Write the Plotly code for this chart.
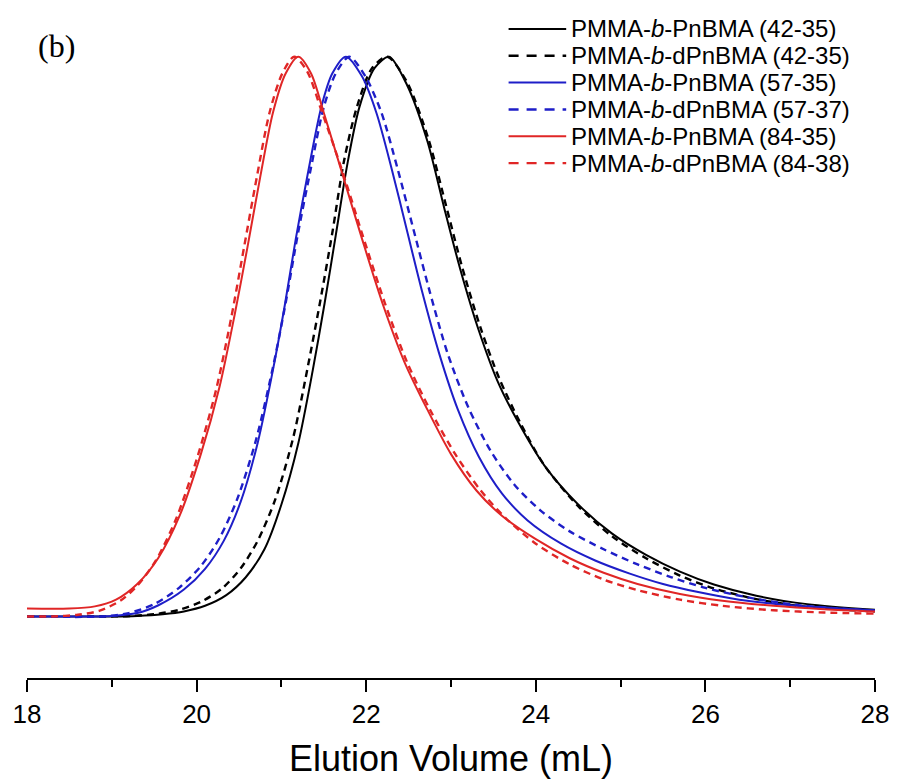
import plotly.graph_objects as go

# ---------------- data (normalised SEC traces) ----------------
labels = [
    "PMMA-<i>b</i>-PnBMA (42-35)",
    "PMMA-<i>b</i>-dPnBMA (42-35)",
    "PMMA-<i>b</i>-PnBMA (57-35)",
    "PMMA-<i>b</i>-dPnBMA (57-37)",
    "PMMA-<i>b</i>-PnBMA (84-35)",
    "PMMA-<i>b</i>-dPnBMA (84-38)",
]

x_42_35 = [18.0, 19.0, 19.3, 19.6, 19.85, 20.1, 20.35, 20.58, 20.8, 21.0, 21.2, 21.37, 21.51, 21.64,
           21.78, 21.92, 22.1, 22.27, 22.48, 22.72, 22.92, 23.11, 23.33, 23.55, 23.8, 24.1, 24.5,
           24.9, 25.3, 25.7, 26.1, 26.6, 27.2, 28.0]
y_42_35 = [0.0, 0.0, 0.001, 0.004, 0.009, 0.019, 0.038, 0.07, 0.12, 0.20, 0.31, 0.44, 0.56, 0.68,
           0.81, 0.91, 0.98, 1.0, 0.95, 0.85, 0.73, 0.62, 0.51, 0.42, 0.345, 0.27, 0.20,
           0.148, 0.11, 0.08, 0.057, 0.037, 0.022, 0.012]

x_42_35d = [18.0, 19.0, 19.25, 19.55, 19.8, 20.05, 20.3, 20.52, 20.72, 20.93, 21.14, 21.31, 21.46,
            21.6, 21.74, 21.89, 22.07, 22.25, 22.48, 22.73, 22.94, 23.13, 23.35, 23.57, 23.82, 24.1,
            24.5, 24.9, 25.3, 25.7, 26.1, 26.6, 27.2, 28.0]
y_42_35d = [0.0, 0.0, 0.001, 0.005, 0.012, 0.026, 0.05, 0.086, 0.135, 0.21, 0.32, 0.445, 0.565,
            0.685, 0.815, 0.91, 0.98, 1.0, 0.955, 0.855, 0.735, 0.625, 0.515, 0.425, 0.345, 0.27,
            0.197, 0.143, 0.104, 0.073, 0.05, 0.031, 0.017, 0.009]

x_57_35 = [18.0, 19.0, 19.3, 19.55, 19.85, 20.1, 20.32, 20.52, 20.72, 20.9, 21.04, 21.17, 21.31,
           21.47, 21.6, 21.76, 21.95, 22.12, 22.3, 22.48, 22.66, 22.86, 23.08, 23.33, 23.6, 23.9,
           24.3, 24.7, 25.1, 25.5, 25.9, 26.4, 27.0, 28.0]
y_57_35 = [0.0, 0.001, 0.006, 0.02, 0.048, 0.085, 0.135, 0.205, 0.31, 0.44, 0.556, 0.675, 0.79,
           0.91, 0.97, 1.0, 0.965, 0.90, 0.80, 0.69, 0.58, 0.47, 0.37, 0.285, 0.22, 0.172,
           0.13, 0.10, 0.077, 0.058, 0.044, 0.03, 0.02, 0.011]

x_57_37 = [18.0, 18.9, 19.2, 19.5, 19.8, 20.05, 20.27, 20.48, 20.7, 20.9, 21.05, 21.19, 21.34, 21.5,
           21.64, 21.8, 21.99, 22.18, 22.37, 22.56, 22.75, 22.96, 23.2, 23.47, 23.75, 24.05, 24.4,
           24.8, 25.2, 25.6, 26.0, 26.5, 27.1, 28.0]
y_57_37 = [0.0, 0.0, 0.006, 0.022, 0.052, 0.09, 0.14, 0.21, 0.315, 0.445, 0.56, 0.68, 0.795, 0.91,
           0.97, 1.0, 0.965, 0.90, 0.80, 0.69, 0.58, 0.47, 0.375, 0.295, 0.235, 0.19, 0.152,
           0.12, 0.093, 0.07, 0.051, 0.034, 0.02, 0.01]

x_84_35 = [18.0, 18.5, 18.8, 19.05, 19.3, 19.55, 19.8, 20.05, 20.27, 20.45, 20.6, 20.75, 20.9, 21.05,
           21.2, 21.35, 21.5, 21.72, 21.95, 22.2, 22.45, 22.72, 23.0, 23.3, 23.6, 24.0, 24.4, 24.8,
           25.2, 25.7, 26.2, 26.8, 27.4, 28.0]
y_84_35 = [0.014, 0.014, 0.018, 0.03, 0.058, 0.105, 0.18, 0.29, 0.41, 0.54, 0.66, 0.785, 0.90, 0.97,
           1.0, 0.97, 0.90, 0.79, 0.675, 0.556, 0.455, 0.37, 0.29, 0.225, 0.18, 0.138, 0.104, 0.078,
           0.058, 0.04, 0.028, 0.019, 0.013, 0.009]

x_84_38 = [18.0, 18.3, 18.6, 18.85, 19.1, 19.3, 19.52, 19.76, 20.01, 20.23, 20.41, 20.56, 20.71,
           20.86, 21.01, 21.15, 21.3, 21.47, 21.72, 21.96, 22.22, 22.48, 22.75, 23.05, 23.35, 23.65,
           24.0, 24.4, 24.8, 25.2, 25.7, 26.2, 26.8, 27.4, 28.0]
y_84_38 = [0.0, 0.0, 0.003, 0.01, 0.028, 0.055, 0.10, 0.175, 0.285, 0.405, 0.535, 0.66, 0.785,
           0.90, 0.97, 1.0, 0.975, 0.905, 0.795, 0.68, 0.56, 0.455, 0.37, 0.29, 0.225, 0.175,
           0.13, 0.093, 0.066, 0.047, 0.03, 0.019, 0.011, 0.007, 0.005]

x_series = [x_42_35, x_42_35d, x_57_35, x_57_37, x_84_35, x_84_38]
y_series = [y_42_35, y_42_35d, y_57_35, y_57_37, y_84_35, y_84_38]

tick_vals = [18, 20, 22, 24, 26, 28]
x_title = "Elution Volume (mL)"
panel_label = "(b)"

# ---------------- styles ----------------
BLACK = "#000000"
BLUE = "#1e1ec8"
RED = "#e02626"
colors = [BLACK, BLACK, BLUE, BLUE, RED, RED]
dashes = ["solid", "7px,5px", "solid", "7px,5px", "solid", "7px,5px"]
legend_dashes = ["solid", "10px,8px", "solid", "10px,8px", "solid", "10px,8px"]
widths = [2.0, 2.4, 2.0, 2.4, 2.0, 2.4]

SANS = "Liberation Sans, Arial, sans-serif"
SERIF = "Liberation Serif, Times New Roman, serif"

fig = go.Figure()
for xs, ys, name, c, d, w in zip(x_series, y_series, labels, colors, dashes, widths):
    fig.add_trace(go.Scatter(
        x=xs, y=ys, mode="lines", name=name, showlegend=False,
        line=dict(color=c, dash=d, width=w, shape="spline", smoothing=0.8),
        hoverinfo="x+y+name",
    ))

# ---------------- layout ----------------
W, H = 901, 784
ml, mr, mt, mb = 27, 20, 20, 102
plot_w = W - ml - mr
plot_h = H - mt - mb

fig.update_layout(
    width=W, height=H,
    margin=dict(l=ml, r=mr, t=mt, b=mb, pad=0),
    paper_bgcolor="white", plot_bgcolor="white",
    showlegend=False,
    xaxis=dict(
        range=[18, 28], tickvals=tick_vals, ticktext=[str(v) for v in tick_vals],
        showline=True, linecolor="black", linewidth=2, mirror=False,
        ticks="outside", ticklen=12, tickwidth=2, tickcolor="black",
        minor=dict(dtick=1, ticks="outside", ticklen=7, tickwidth=2, tickcolor="black"),
        showgrid=False, zeroline=False,
        tickfont=dict(family=SANS, size=26, color="black"),
        title=dict(text=x_title, font=dict(family=SANS, size=36, color="black"), standoff=18),
    ),
    yaxis=dict(range=[-0.11, 1.0657], visible=False, showgrid=False, zeroline=False),
)

# panel label
fig.add_annotation(text=panel_label, xref="paper", yref="paper",
                   x=(36 - ml) / plot_w, y=(H - mb - 46) / plot_h,
                   xanchor="left", yanchor="middle", showarrow=False,
                   font=dict(family=SERIF, size=32, color="black"))

# manual legend (tight Origin-style rows)
row_px = [29, 56, 83, 110, 137, 164]
line_x0, line_x1, text_x = 512, 570, 574
for name, c, d, w, py in zip(labels, colors, legend_dashes, widths, row_px):
    yp = (H - mb - py) / plot_h
    fig.add_shape(type="line", xref="paper", yref="paper",
                  x0=(line_x0 - ml) / plot_w, x1=(line_x1 - ml) / plot_w, y0=yp, y1=yp,
                  line=dict(color=c, width=w, dash=d))
    fig.add_annotation(text=name, xref="paper", yref="paper",
                       x=(text_x - ml) / plot_w, y=yp, xanchor="left", yanchor="middle",
                       showarrow=False, borderpad=0,
                       font=dict(family=SANS, size=24, color="black"))

fig.write_html("out.html")
